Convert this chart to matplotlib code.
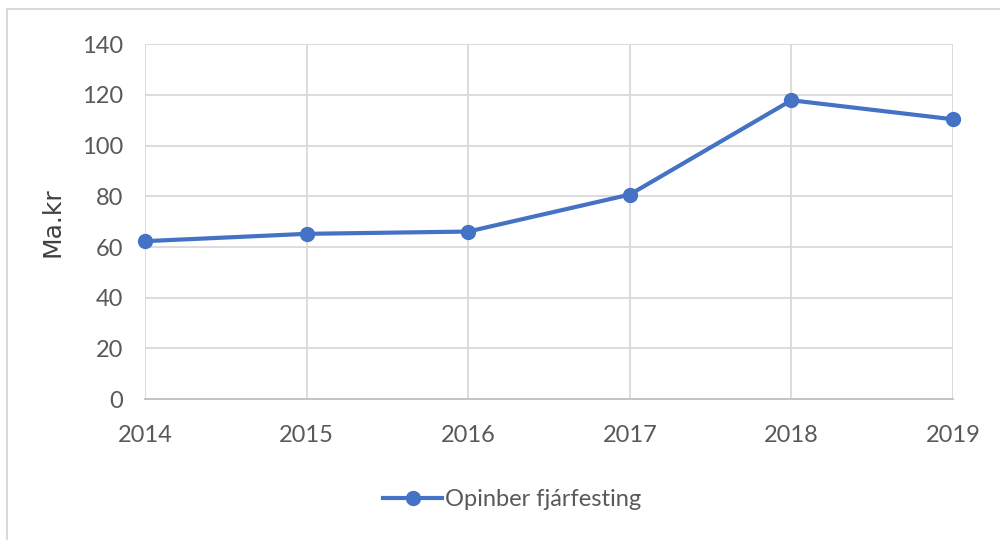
import matplotlib.pyplot as plt
from matplotlib.patches import Rectangle

years = ['2014', '2015', '2016', '2017', '2018', '2019']
values = [62.3, 65.2, 66.1, 80.7, 117.9, 110.4]
series_name = 'Opinber fjárfesting'
y_ticks = [0, 20, 40, 60, 80, 100, 120, 140]

plt.rcParams['font.family'] = ['Lato', 'DejaVu Sans']

fig = plt.figure(figsize=(10, 5.4), dpi=100)
ax = fig.add_axes([0.145, 0.261, 0.808, 0.657])

# ramminn utan um myndina
fig.patches.append(Rectangle((0.007, -0.01), 1.2, 0.993, transform=fig.transFigure,
                             fill=False, edgecolor='#D9D9D9', linewidth=1.5))

x = list(range(len(years)))
ax.plot(x, values, color='#4472C4', linewidth=3, marker='o', markersize=10,
        label=series_name, clip_on=False, zorder=3)

ax.set_xlim(0, len(years) - 1)
ax.set_ylim(0, 140)
ax.set_yticks(y_ticks)
ax.set_xticks(x)
ax.set_xticklabels(years)
ax.grid(True, color='#D9D9D9', linewidth=1.3)
ax.set_axisbelow(True)
for s in ['top', 'right', 'left']:
    ax.spines[s].set_visible(False)
ax.spines['bottom'].set_color('#BFBFBF')
ax.spines['bottom'].set_linewidth(1.3)
ax.tick_params(length=0, labelsize=17, colors='#595959')
ax.tick_params(axis='y', pad=16)
ax.tick_params(axis='x', pad=19)
ax.set_ylabel('Ma.kr', fontsize=18, color='#404040', family=['DejaVu Sans'],
              fontweight='medium', labelpad=12)

fig.legend(loc='center', bbox_to_anchor=(0.512, 0.075), frameon=False,
           fontsize=17, labelcolor='#595959', handlelength=2.5, handletextpad=0.1)

fig.savefig('out.png', dpi=100)
